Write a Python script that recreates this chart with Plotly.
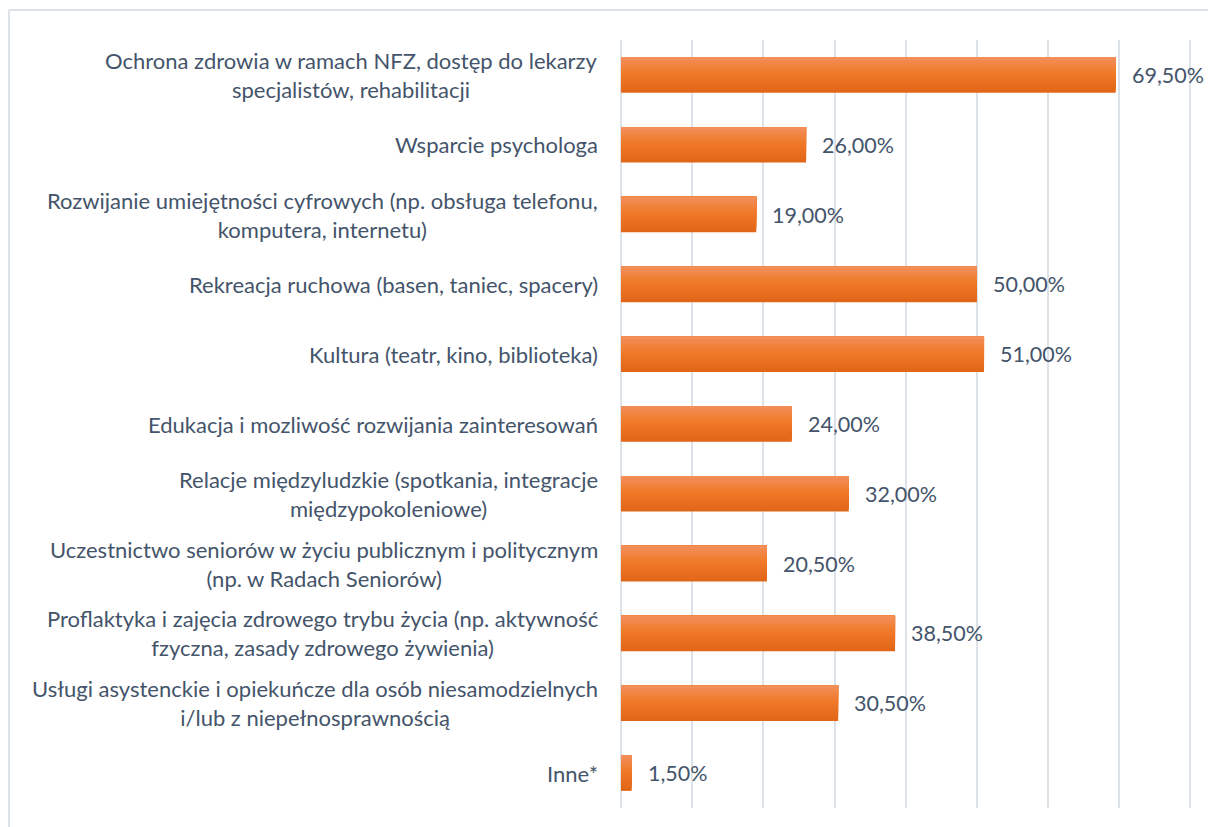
import plotly.graph_objects as go

categories = [
    "Ochrona zdrowia w ramach NFZ, dostęp do lekarzy<br>specjalistów, rehabilitacji",
    "Wsparcie psychologa",
    "Rozwijanie umiejętności cyfrowych (np. obsługa telefonu,<br>komputera, internetu)",
    "Rekreacja ruchowa (basen, taniec, spacery)",
    "Kultura (teatr, kino, biblioteka)",
    "Edukacja i mozliwość rozwijania zainteresowań",
    "Relacje międzyludzkie (spotkania, integracje<br>międzypokoleniowe)",
    "Uczestnictwo seniorów w życiu publicznym i politycznym<br>(np. w Radach Seniorów)",
    "Proflaktyka i zajęcia zdrowego trybu życia (np. aktywność<br>fzyczna, zasady zdrowego żywienia)",
    "Usługi asystenckie i opiekuńcze dla osób niesamodzielnych<br>i/lub z niepełnosprawnością",
    "Inne*",
]
values = [69.5, 26.0, 19.0, 50.0, 51.0, 24.0, 32.0, 20.5, 38.5, 30.5, 1.5]
value_labels = [f"{v:.2f}".replace(".", ",") + "%" for v in values]

TEXT = "#44546A"
FONT = "Lato"
BAR_W = 0.51
GRID = "#DDE2E9"

# gradient emulation: colour stops from bottom (dark) to top (light)
stops = [(0.0, (226, 102, 24)), (0.55, (240, 121, 40)), (1.0, (242, 142, 88))]


def lerp_color(t):
    for (t0, c0), (t1, c1) in zip(stops[:-1], stops[1:]):
        if t0 <= t <= t1:
            f = (t - t0) / (t1 - t0)
            return "rgb({},{},{})".format(*[round(a + (b - a) * f) for a, b in zip(c0, c1)])
    return "rgb({},{},{})".format(*stops[-1][1])


fig = go.Figure()
N = 14
for k in range(N):
    frac = 1 - k / N  # portion from top covered
    t = k / (N - 1)
    fig.add_trace(go.Bar(
        x=values, y=categories, orientation="h",
        width=BAR_W * frac, offset=-BAR_W / 2,
        marker=dict(color=lerp_color(t), line=dict(width=0)),
        hoverinfo="skip", showlegend=False,
    ))

annotations = []
for c, v, lab in zip(categories, values, value_labels):
    annotations.append(dict(x=v, y=c, xref="x", yref="y", text=lab, showarrow=False,
                            xanchor="left", xshift=14,
                            font=dict(family=FONT, size=21.5, color=TEXT)))
    annotations.append(dict(x=0, y=c, xref="x", yref="y", text=c, showarrow=False,
                            xanchor="right", xshift=-21, align="center",
                            font=dict(family=FONT, size=22, color=TEXT)))

W, H = 1208, 827
X_MAX = 80.5
L, T, B = 621, 40, 808
R = L + round(569 * X_MAX / 80)
pw, ph = R - L, B - T


def px(p):
    return (p - L) / pw


def py(p):
    return (B - p) / ph


shapes = [
    dict(type="line", xref="paper", yref="paper", x0=px(9), x1=px(9), y0=py(10), y1=py(840),
         line=dict(color=GRID, width=2)),
    dict(type="line", xref="paper", yref="paper", x0=px(9), x1=px(1220), y0=py(10), y1=py(10),
         line=dict(color=GRID, width=2)),
]

fig.update_layout(
    width=W, height=H,
    margin=dict(l=L, r=W - R, t=T, b=H - B),
    paper_bgcolor="white", plot_bgcolor="white",
    barmode="overlay",
    annotations=annotations, shapes=shapes,
    font=dict(family=FONT, color=TEXT),
    xaxis=dict(range=[0, X_MAX], tickvals=list(range(0, 90, 10)), showgrid=True,
               gridcolor=GRID, gridwidth=2,
               zeroline=True, zerolinecolor=GRID, zerolinewidth=2,
               showticklabels=False, showline=False, fixedrange=True),
    yaxis=dict(categoryorder="array", categoryarray=categories, autorange="reversed",
               showticklabels=False, showgrid=False, zeroline=False, showline=False,
               fixedrange=True),
)

fig.write_html(
    "out.html",
    config={"displayModeBar": False, "staticPlot": True},
    post_script="document.body.style.margin='0';document.documentElement.style.overflow='hidden';",
)
